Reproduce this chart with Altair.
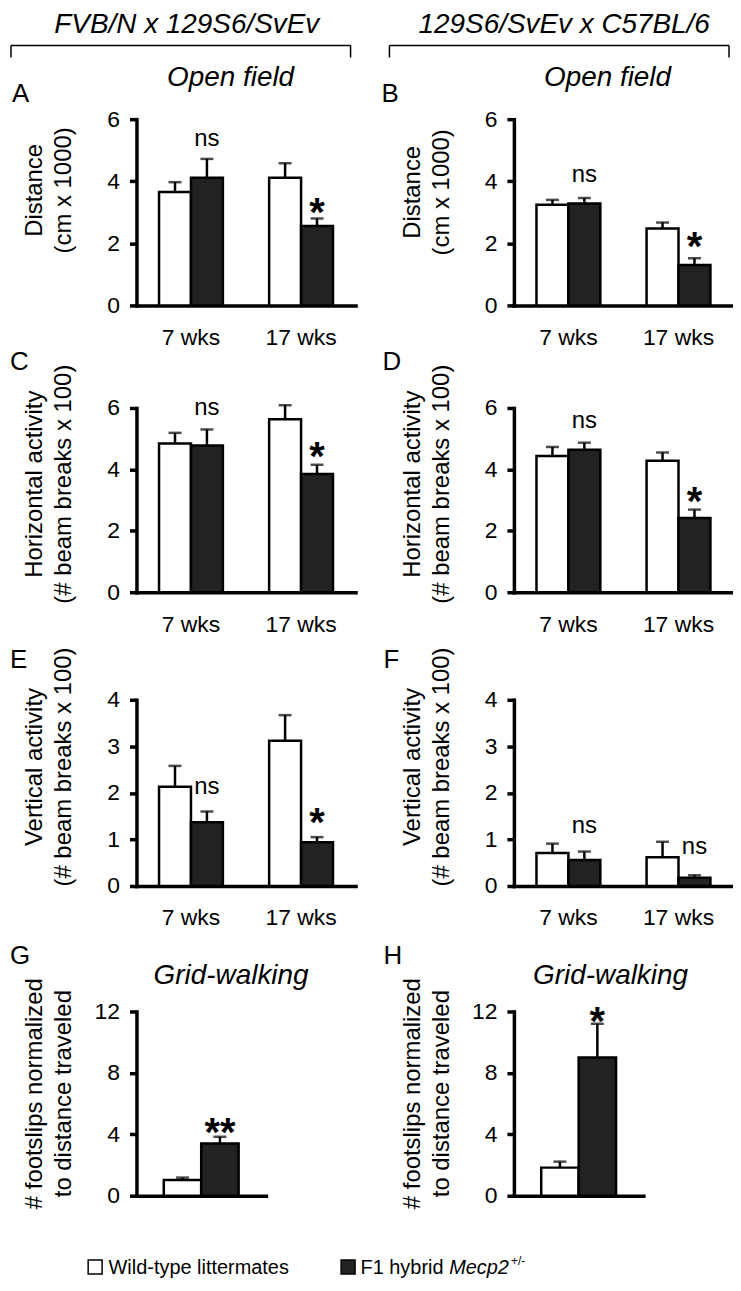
import altair as alt
import pandas as pd

FONT = "Liberation Sans"
AGES = ["7 wks", "17 wks"]
GENOTYPES = ["WT", "Het"]
FILLS = ["#ffffff", "#222222"]

HEADERS = ["FVB/N x 129S6/SvEv", "129S6/SvEv x C57BL/6"]
OPEN_FIELD = "Open field"
GRID_WALK = "Grid-walking"
LETTERS = ["A", "B", "C", "D", "E", "F", "G", "H"]
LEGEND_WT = "Wild-type littermates"
LEGEND_HET = ["F1 hybrid", "Mecp2", "+/-"]

TITLE_DIST = ["Distance", "(cm x 1000)"]
TITLE_HORIZ = ["Horizontal activity", "(# beam breaks x 100)"]
TITLE_VERT = ["Vertical activity", "(# beam breaks x 100)"]
TITLE_GRID = ["# footslips normalized", "to distance traveled"]

# mean and SEM per age (7 wks, 17 wks)
A_WT = [3.65, 4.11]; A_WT_SEM = [0.32, 0.47]
A_HET = [4.11, 2.56]; A_HET_SEM = [0.61, 0.24]
A_SIG = ["ns", "*"]; A_SIG_Y = [5.36, 3.31]

B_WT = [3.24, 2.48]; B_WT_SEM = [0.16, 0.19]
B_HET = [3.28, 1.30]; B_HET_SEM = [0.18, 0.22]
B_SIG = ["ns", "*"]; B_SIG_Y = [4.20, 2.21]

C_WT = [4.84, 5.63]; C_WT_SEM = [0.35, 0.46]
C_HET = [4.78, 3.85]; C_HET_SEM = [0.52, 0.30]
C_SIG = ["ns", "*"]; C_SIG_Y = [6.01, 4.71]

D_WT = [4.44, 4.28]; D_WT_SEM = [0.29, 0.27]
D_HET = [4.64, 2.42]; D_HET_SEM = [0.23, 0.27]
D_SIG = ["ns", "*"]; D_SIG_Y = [5.58, 3.25]

E_WT = [2.13, 3.12]; E_WT_SEM = [0.45, 0.55]
E_HET = [1.37, 0.94]; E_HET_SEM = [0.23, 0.11]
E_SIG = ["ns", "*"]; E_SIG_Y = [2.13, 1.57]

F_WT = [0.71, 0.62]; F_WT_SEM = [0.20, 0.33]
F_HET = [0.56, 0.18]; F_HET_SEM = [0.18, 0.05]
F_SIG = ["ns", "ns"]; F_SIG_Y = [1.28, 0.84]

# grid walking (WT, Het)
G_MEAN = [1.03, 3.40]; G_SEM = [0.15, 0.44]
G_SIG = ["**"]; G_SIG_Y = [4.72]
H_MEAN = [1.83, 9.00]; H_SEM = [0.39, 2.20]
H_SIG = ["*"]; H_SIG_Y = [11.96]

LW = 2.5
ONE = pd.DataFrame({"k": [0]})


def age_df(wt, wt_sem, het, het_sem):
    rows = []
    for i, age in enumerate(AGES):
        rows.append({"age": age, "g": "WT", "mean": wt[i], "top": wt[i] + wt_sem[i]})
        rows.append({"age": age, "g": "Het", "mean": het[i], "top": het[i] + het_sem[i]})
    return pd.DataFrame(rows)


def sig_df(labels, ys, ages=True):
    if ages:
        return pd.DataFrame({"age": AGES, "g": ["Het"] * 2, "label": labels, "y": ys})
    return pd.DataFrame({"g": ["Het"], "label": labels, "y": ys})


def text_deco(t, x, y, size, style="normal", align="left", weight="normal"):
    return alt.Chart(pd.DataFrame({"t": [t]})).mark_text(
        align=align, baseline="alphabetic", fontSize=size, fontStyle=style,
        fontWeight=weight, font=FONT, color="black"
    ).encode(x=alt.value(x), y=alt.value(y), text="t:N")


def rule_deco(x, y, x2=None, y2=None):
    enc = dict(x=alt.value(x), y=alt.value(y))
    if x2 is not None:
        enc["x2"] = alt.value(x2)
    if y2 is not None:
        enc["y2"] = alt.value(y2)
    return alt.Chart(ONE).mark_rule(color="black", strokeWidth=1.5).encode(**enc)


def make_panel(df, sdf, ymax, yvals, ytitle, title_y, hv, top, grid=False):
    yscale = alt.Scale(domain=[0, ymax], nice=False, zero=True, range=[hv, top])
    yaxis = alt.Axis(values=yvals, title=ytitle, titleX=-90, titleY=title_y + top,
                     titleAngle=-90, titleAlign="center", titleBaseline="bottom",
                     titleFontSize=24, titleLineHeight=29, titleFontWeight="normal",
                     labelFontSize=23, tickSize=7, labelPadding=10)
    if grid:
        x = alt.X("g:N", sort=GENOTYPES,
                  scale=alt.Scale(domain=GENOTYPES, paddingInner=0, paddingOuter=0.73),
                  axis=alt.Axis(title=None, labels=False, ticks=False))
        extra = {}
    else:
        x = alt.X("age:N", sort=AGES,
                  scale=alt.Scale(domain=AGES, paddingInner=0.42, paddingOuter=0.205),
                  axis=alt.Axis(title=None, labelAngle=0, ticks=False, labelPadding=21,
                                labelFontSize=23))
        extra = {"xOffset": alt.XOffset("g:N", sort=GENOTYPES,
                                        scale=alt.Scale(domain=GENOTYPES, paddingInner=0,
                                                        paddingOuter=0))}
    base = alt.Chart(df)
    bars = base.mark_bar(stroke="black", strokeWidth=LW).encode(
        x=x, y=alt.Y("mean:Q", scale=yscale, axis=yaxis),
        fill=alt.Fill("g:N", scale=alt.Scale(domain=GENOTYPES, range=FILLS), legend=None),
        **extra)
    err = base.mark_rule(color="black", strokeWidth=LW).encode(
        x=x, y=alt.Y("mean:Q", scale=yscale, axis=yaxis), y2="top:Q", **extra)
    cap = base.mark_tick(color="black", thickness=LW, size=13, orient="horizontal").encode(
        x=x, y=alt.Y("top:Q", scale=yscale, axis=yaxis), **extra)
    sbase = alt.Chart(sdf)
    ns = sbase.transform_filter(alt.datum.label == "ns").mark_text(
        fontSize=24, baseline="middle", font=FONT, color="black").encode(
        x=x, y=alt.Y("y:Q", scale=yscale, axis=yaxis), text="label:N", **extra)
    star = sbase.transform_filter(alt.datum.label != "ns").mark_text(
        fontSize=40, fontWeight="bold", baseline="middle", dy=11, font=FONT,
        color="black").encode(
        x=x, y=alt.Y("y:Q", scale=yscale, axis=yaxis), text="label:N", **extra)
    return [bars, err, cap, ns, star]


W = 220
WG = 130
# view heights and plot-top offsets inside each view (rows 1..4)
HV = [187, 185, 192, 208]
TOP = [0, 0, 5, 23]
HB = -87  # header baseline above panel A/B plot top

# Row 1
pa = make_panel(age_df(A_WT, A_WT_SEM, A_HET, A_HET_SEM), sig_df(A_SIG, A_SIG_Y),
                6, [0, 2, 4, 6], TITLE_DIST, 71, HV[0], TOP[0])
pa += [text_deco(HEADERS[0], 50.5, HB, 28, "italic", "center"),
       rule_deco(-126, -74, x2=215), rule_deco(-126, -74, y2=-62), rule_deco(215, -74, y2=-62),
       text_deco(OPEN_FIELD, 94.5, -33, 28, "italic", "center"),
       text_deco(LETTERS[0], -125, -17, 26)]
A = alt.layer(*pa).properties(width=W, height=HV[0])

pb = make_panel(age_df(B_WT, B_WT_SEM, B_HET, B_HET_SEM), sig_df(B_SIG, B_SIG_Y),
                6, [0, 2, 4, 6], TITLE_DIST, 73, HV[0], TOP[0])
pb += [text_deco(HEADERS[1], 50.5, HB, 28, "italic", "center"),
       rule_deco(-125, -74, x2=216), rule_deco(-125, -74, y2=-62), rule_deco(216, -74, y2=-62),
       text_deco(OPEN_FIELD, 94, -33, 28, "italic", "center"),
       text_deco(LETTERS[1], -133, -17, 26)]
B = alt.layer(*pb).properties(width=W, height=HV[0])

# Row 2
pc = make_panel(age_df(C_WT, C_WT_SEM, C_HET, C_HET_SEM), sig_df(C_SIG, C_SIG_Y),
                6, [0, 2, 4, 6], TITLE_HORIZ, 76, HV[1], TOP[1])
pc += [text_deco(LETTERS[2], -127, TOP[1] - 38, 26)]
C = alt.layer(*pc).properties(width=W, height=HV[1])

pd_ = make_panel(age_df(D_WT, D_WT_SEM, D_HET, D_HET_SEM), sig_df(D_SIG, D_SIG_Y),
                 6, [0, 2, 4, 6], TITLE_HORIZ, 76, HV[1], TOP[1])
pd_ += [text_deco(LETTERS[3], -132, TOP[1] - 38, 26)]
D = alt.layer(*pd_).properties(width=W, height=HV[1])

# Row 3
pe = make_panel(age_df(E_WT, E_WT_SEM, E_HET, E_HET_SEM), sig_df(E_SIG, E_SIG_Y),
                4, [0, 1, 2, 3, 4], TITLE_VERT, 67, HV[2], TOP[2])
pe += [text_deco(LETTERS[4], -127, TOP[2] - 32, 26)]
E = alt.layer(*pe).properties(width=W, height=HV[2])

pf = make_panel(age_df(F_WT, F_WT_SEM, F_HET, F_HET_SEM), sig_df(F_SIG, F_SIG_Y),
                4, [0, 1, 2, 3, 4], TITLE_VERT, 67, HV[2], TOP[2])
pf += [text_deco(LETTERS[5], -131, TOP[2] - 32, 26)]
F = alt.layer(*pf).properties(width=W, height=HV[2])

# Row 4
gdf = pd.DataFrame({"g": GENOTYPES, "mean": G_MEAN, "top": [m + s for m, s in zip(G_MEAN, G_SEM)]})
hdf = pd.DataFrame({"g": GENOTYPES, "mean": H_MEAN, "top": [m + s for m, s in zip(H_MEAN, H_SEM)]})

T4 = TOP[3]
pg = make_panel(gdf, sig_df(G_SIG, G_SIG_Y, ages=False), 12, [0, 4, 8, 12], TITLE_GRID, 82,
                HV[3], T4, grid=True)
pg += [text_deco(GRID_WALK, 95, T4 - 28, 28, "italic", "center"),
       text_deco(LETTERS[6], -127, T4 - 48, 26),
       alt.Chart(ONE).mark_square(size=196, fill="white", stroke="black", strokeWidth=1.5,
                                  opacity=1).encode(x=alt.value(-41.5), y=alt.value(HV[3] + 71.5)),
       text_deco(LEGEND_WT, -28, HV[3] + 79, 20),
       alt.Chart(ONE).mark_square(size=196, fill="#222222", stroke="black", strokeWidth=1.5,
                                  opacity=1).encode(x=alt.value(212.5), y=alt.value(HV[3] + 71.5)),
       text_deco(LEGEND_HET[0], 225, HV[3] + 79, 20),
       text_deco(LEGEND_HET[1], 314, HV[3] + 79, 20, "italic"),
       text_deco(LEGEND_HET[2], 376, HV[3] + 70, 12)]
G = alt.layer(*pg).properties(width=WG, height=HV[3])

ph = make_panel(hdf, sig_df(H_SIG, H_SIG_Y, ages=False), 12, [0, 4, 8, 12], TITLE_GRID, 82,
                HV[3], T4, grid=True)
ph += [text_deco(GRID_WALK, 97, T4 - 28, 28, "italic", "center"),
       text_deco(LETTERS[7], -131, T4 - 48, 26)]
Hh = alt.layer(*ph).properties(width=WG, height=HV[3])

chart = alt.concat(A, B, C, D, E, F, G, Hh, columns=2, bounds="flush",
                   spacing={"row": 103, "column": 159})

chart = chart.properties(
    padding={"left": 2, "top": 0, "right": 0, "bottom": 0}
).configure_view(stroke=None).configure_axis(
    domainColor="black", domainWidth=3.5, tickColor="black", tickWidth=3.5,
    labelColor="black", titleColor="black", labelFont=FONT, titleFont=FONT, grid=False,
    domainCap="square"
)

chart.save("out.html", embed_options={"renderer": "svg", "actions": False})
